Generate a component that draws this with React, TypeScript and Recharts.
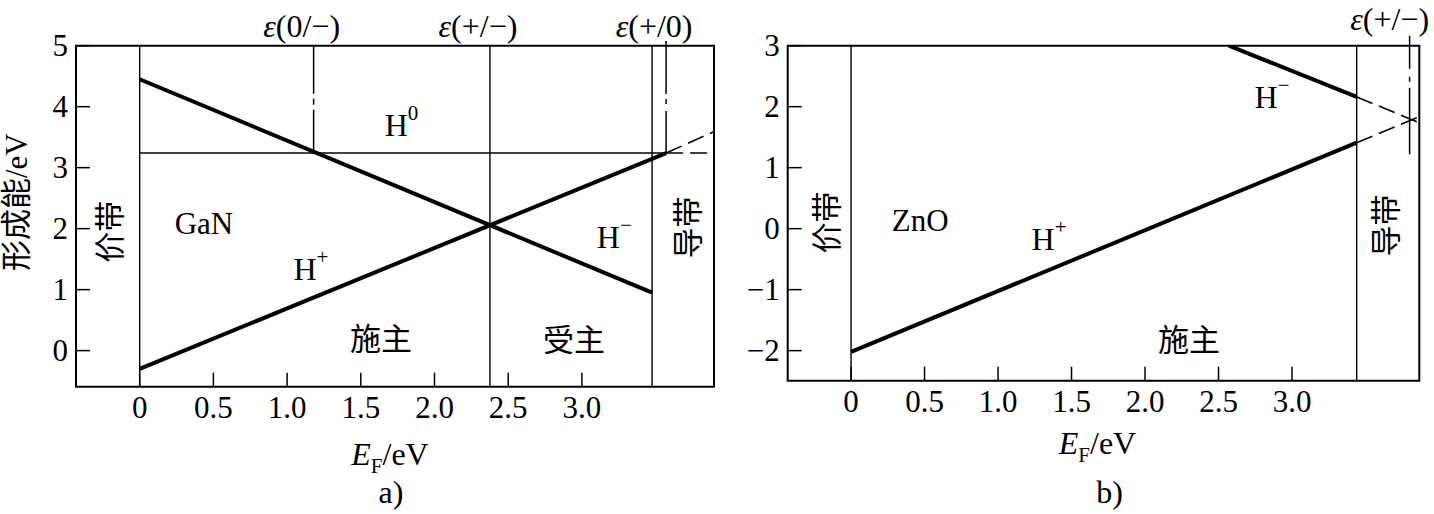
import React from 'react';
import {
  ComposedChart,
  Line,
  XAxis,
  YAxis,
  ReferenceLine,
  ReferenceArea,
  ReferenceDot,
} from 'recharts';

const SERIF = '"Liberation Serif", "Noto Sans CJK SC", serif';

// ---------------- panel a) GaN ----------------
const aXDomain: [number, number] = [-0.432, 3.896];
const aYDomain: [number, number] = [-0.592, 5];
const aXTicks = [0, 0.5, 1, 1.5, 2, 2.5, 3];
const aYTicks = [0, 1, 2, 3, 4, 5];
const aHPlus = [{ x: 0, y: -0.3 }, { x: 3.571, y: 3.24 }];
const aHMinus = [{ x: 0, y: 4.45 }, { x: 3.476, y: 0.95 }];
const aH0 = [{ x: 0, y: 3.24 }, { x: 3.571, y: 3.24 }];
const aH0Ext = [{ x: 3.571, y: 3.24 }, { x: 3.896, y: 3.24 }];
const aHPlusExt = [{ x: 3.571, y: 3.24 }, { x: 3.896, y: 3.59 }];
const aSolidVerticals = [0, 2.376, 3.476];
const aEpsX = [1.18, 2.376, 3.571];
const aEpsText = ['(0/−)', '(+/−)', '(+/0)'];
const aDashDot = [
  { x: 1.18, top: 5, bottom: 3.24 },
  { x: 3.571, top: 5.077, bottom: 3.24 },
];
const aNotes = [
  { text: '价带', sup: '', x: -0.2, y: 1.95, kind: 'v' },
  { text: 'GaN', sup: '', x: 0.436, y: 2.08, kind: 't' },
  { text: 'H', sup: '0', x: 1.776, y: 3.7, kind: 's' },
  { text: 'H', sup: '+', x: 1.162, y: 1.34, kind: 's' },
  { text: 'H', sup: '−', x: 3.22, y: 1.87, kind: 's' },
  { text: '施主', sup: '', x: 1.637, y: 0.176, kind: 't' },
  { text: '受主', sup: '', x: 2.947, y: 0.16, kind: 't' },
  { text: '导带', sup: '', x: 3.72, y: 2.02, kind: 'v' },
];

// ---------------- panel b) ZnO ----------------
const bXDomain: [number, number] = [-0.431, 3.866];
const bYDomain: [number, number] = [-2.493, 3];
const bXTicks = [0, 0.5, 1, 1.5, 2, 2.5, 3];
const bYTicks = [-2, -1, 0, 1, 2, 3];
const bHPlus = [{ x: 0, y: -2.02 }, { x: 3.44, y: 1.41 }];
const bHPlusExt = [{ x: 3.44, y: 1.41 }, { x: 3.866, y: 1.835 }];
const bHMinus = [{ x: 2.57, y: 3 }, { x: 3.44, y: 2.16 }];
const bHMinusExt = [{ x: 3.44, y: 2.16 }, { x: 3.866, y: 1.735 }];
const bSolidVerticals = [0, 3.44];
const bEpsX = [3.8];
const bEpsText = ['(+/−)'];
const bDashDot = [{ x: 3.8, top: 3.164, bottom: 1.22 }];
const bNotes = [
  { text: '价带', sup: '', x: -0.163, y: 0.1, kind: 'v' },
  { text: 'ZnO', sup: '', x: 0.47, y: 0.13, kind: 't' },
  { text: 'H', sup: '+', x: 1.347, y: -0.163, kind: 's' },
  { text: 'H', sup: '−', x: 2.864, y: 2.165, kind: 's' },
  { text: '施主', sup: '', x: 2.3, y: -1.84, kind: 't' },
  { text: '导带', sup: '', x: 3.64, y: 0.05, kind: 'v' },
];

const fmtX = (v: number) => (v === 0 ? '0' : v.toFixed(1));
const fmtY = (v: number) => (v < 0 ? '−' + Math.abs(v) : String(v));

type Note = { text: string; sup: string; x: number; y: number; kind: string };

const renderNote = (n: Note, cx: number, cy: number) => {
  if (n.kind === 'v') {
    return (
      <text
        x={cx}
        y={cy}
        transform={`rotate(-90 ${cx} ${cy})`}
        textAnchor="middle"
        dominantBaseline="central"
        fontSize={31}
        fontFamily={SERIF}
        fill="#000"
      >
        {n.text}
      </text>
    );
  }
  if (n.kind === 's') {
    return (
      <text x={cx} y={cy} textAnchor="middle" dominantBaseline="central" fontSize={32} fontFamily={SERIF} fill="#000">
        <tspan>{n.text}</tspan>
        <tspan fontSize={21} dy={-12}>
          {n.sup}
        </tspan>
      </text>
    );
  }
  return (
    <text x={cx} y={cy} textAnchor="middle" dominantBaseline="central" fontSize={31} fontFamily={SERIF} fill="#000">
      {n.text}
    </text>
  );
};

type PanelProps = {
  width: number;
  margin: { top: number; left: number; right: number; bottom: number };
  xDomain: [number, number];
  yDomain: [number, number];
  xTicks: number[];
  yTicks: number[];
  thick: { x: number; y: number }[][];
  dashed: { x: number; y: number }[][];
  thin: { x: number; y: number }[][];
  verticals: number[];
  epsX: number[];
  epsText: string[];
  dashDot: { x: number; top: number; bottom: number }[];
  dashDotStyle: string[];
  notes: Note[];
  caption: string;
  yLabel?: string;
  xLabelDy: number;
  captionDy: number;
  epsDy: number;
  epsDx: number;
  labelDx: number;
  captionDx: number;
};

function Panel(p: PanelProps) {
  const XTick = (t: any) => (
    <g>
      <line x1={t.x} x2={t.x} y1={t.y} y2={t.y - 14} stroke="#000" strokeWidth={1.5} />
      <text x={t.x} y={t.y + 21} textAnchor="middle" dominantBaseline="central" fontSize={31} fontFamily={SERIF} fill="#000">
        {fmtX(t.payload.value)}
      </text>
    </g>
  );
  const YTick = (t: any) => (
    <g>
      <line x1={t.x} x2={t.x + 14} y1={t.y} y2={t.y} stroke="#000" strokeWidth={1.5} />
      <text x={t.x - 8} y={t.y} textAnchor="end" dominantBaseline="central" fontSize={31} fontFamily={SERIF} fill="#000">
        {fmtY(t.payload.value)}
      </text>
    </g>
  );
  const renderEps = (label: string, cx: number, cy: number) => (
    <text
      x={cx + p.epsDx}
      y={cy - p.epsDy}
      textAnchor="middle"
      dominantBaseline="central"
      fontSize={32}
      fontFamily={SERIF}
      fill="#000"
    >
      <tspan fontStyle="italic">ε</tspan>
      <tspan>{label}</tspan>
    </text>
  );
  const xLabel = (l: any) => {
    const vb = l.viewBox;
    const cx = vb.x + vb.width / 2;
    return (
      <g>
        <text x={cx + p.labelDx} y={vb.y + p.xLabelDy} textAnchor="middle" fontSize={32} fontFamily={SERIF} fill="#000">
          <tspan fontStyle="italic">E</tspan>
          <tspan fontSize={21} dy={8}>
            F
          </tspan>
          <tspan dy={-8}>/eV</tspan>
        </text>
        <text x={cx + p.captionDx} y={vb.y + p.captionDy} textAnchor="middle" fontSize={32} fontFamily={SERIF} fill="#000">
          {p.caption}
        </text>
      </g>
    );
  };
  const yLabel = (l: any) => {
    if (!p.yLabel) return null;
    const vb = l.viewBox;
    const cx = vb.x - 58;
    const cy = vb.y + vb.height / 2 - 14;
    return (
      <text
        x={cx}
        y={cy}
        transform={`rotate(-90 ${cx} ${cy})`}
        textAnchor="middle"
        dominantBaseline="central"
        fontSize={31}
        fontFamily={SERIF}
        fill="#000"
      >
        {p.yLabel}
      </text>
    );
  };

  return (
    <ComposedChart width={p.width} height={514} margin={p.margin}>
      <XAxis
        xAxisId={0}
        dataKey="x"
        type="number"
        domain={p.xDomain}
        allowDataOverflow
        ticks={p.xTicks}
        interval={0}
        height={1}
        axisLine={false}
        tickLine={false}
        tickSize={0}
        tickMargin={0}
        tick={XTick}
        label={xLabel}
      />
      <YAxis
        yAxisId={0}
        type="number"
        domain={p.yDomain}
        allowDataOverflow
        ticks={p.yTicks}
        interval={0}
        width={1}
        axisLine={false}
        tickLine={false}
        tickSize={0}
        tickMargin={0}
        tick={YTick}
        label={yLabel}
      />
      {p.verticals.map((v, i) => (
        <ReferenceLine key={'v' + i} x={v} stroke="#000" strokeWidth={1.4} ifOverflow="visible" />
      ))}
      {p.dashDot.map((d, i) => (
        <ReferenceLine
          key={'dd' + i}
          segment={[
            { x: d.x, y: d.top },
            { x: d.x, y: d.bottom },
          ]}
          stroke="#000"
          strokeWidth={1.5}
          strokeDasharray={p.dashDotStyle[i]}
          ifOverflow="visible"
        />
      ))}
      {p.thin.map((d, i) => (
        <Line
          key={'t' + i}
          data={d}
          dataKey="y"
          type="linear"
          stroke="#000"
          strokeWidth={1.4}
          dot={false}
          activeDot={false}
          isAnimationActive={false}
        />
      ))}
      {p.dashed.map((d, i) => (
        <Line
          key={'d' + i}
          data={d}
          dataKey="y"
          type="linear"
          stroke="#000"
          strokeWidth={1.6}
          strokeDasharray="17 7"
          dot={false}
          activeDot={false}
          isAnimationActive={false}
        />
      ))}
      {p.thick.map((d, i) => (
        <Line
          key={'k' + i}
          data={d}
          dataKey="y"
          type="linear"
          stroke="#000"
          strokeWidth={4}
          dot={false}
          activeDot={false}
          isAnimationActive={false}
        />
      ))}
      {p.notes.map((n, i) => (
        <ReferenceDot
          key={'n' + i}
          x={n.x}
          y={n.y}
          r={0}
          ifOverflow="visible"
          shape={(s: any) => renderNote(n, s.cx, s.cy)}
        />
      ))}
      {p.epsX.map((ex, i) => (
        <ReferenceDot
          key={'e' + i}
          x={ex}
          y={p.yDomain[1]}
          r={0}
          ifOverflow="visible"
          shape={(s: any) => renderEps(p.epsText[i], s.cx, s.cy)}
        />
      ))}
      <ReferenceArea
        x1={p.xDomain[0]}
        x2={p.xDomain[1]}
        y1={p.yDomain[0]}
        y2={p.yDomain[1]}
        fill="none"
        fillOpacity={0}
        stroke="#000"
        strokeWidth={2}
        ifOverflow="visible"
      />
    </ComposedChart>
  );
}

export default function App() {
  return (
    <div style={{ position: 'absolute', left: 0, top: 0, width: 1434, height: 514, background: '#fff' }}>
      <div style={{ position: 'absolute', left: 0, top: 0 }}>
        <Panel
          width={720}
          margin={{ top: 45.7, left: 75, right: 6, bottom: 126.3 }}
          xDomain={aXDomain}
          yDomain={aYDomain}
          xTicks={aXTicks}
          yTicks={aYTicks}
          thick={[aHPlus, aHMinus]}
          dashed={[aH0Ext, aHPlusExt]}
          thin={[aH0]}
          verticals={aSolidVerticals}
          epsX={aEpsX}
          epsText={aEpsText}
          dashDot={aDashDot}
          dashDotStyle={['48 5 6 5 300', '53 5 5 7 300']}
          notes={aNotes}
          caption="a)"
          yLabel="形成能/eV"
          xLabelDy={78}
          captionDy={116}
          epsDy={20}
          epsDx={-12}
          labelDx={-5}
          captionDx={-4}
        />
      </div>
      <div style={{ position: 'absolute', left: 720, top: 0 }}>
        <Panel
          width={714}
          margin={{ top: 45.7, left: 66.7, right: 14.7, bottom: 132.3 }}
          xDomain={bXDomain}
          yDomain={bYDomain}
          xTicks={bXTicks}
          yTicks={bYTicks}
          thick={[bHPlus, bHMinus]}
          dashed={[bHPlusExt, bHMinusExt]}
          thin={[]}
          verticals={bSolidVerticals}
          epsX={bEpsX}
          epsText={bEpsText}
          dashDot={bDashDot}
          dashDotStyle={['33 8 5 6 300']}
          notes={bNotes}
          caption="b)"
          xLabelDy={73}
          captionDy={122}
          epsDy={27}
          epsDx={-20}
          labelDx={-6}
          captionDx={6}
        />
      </div>
    </div>
  );
}
